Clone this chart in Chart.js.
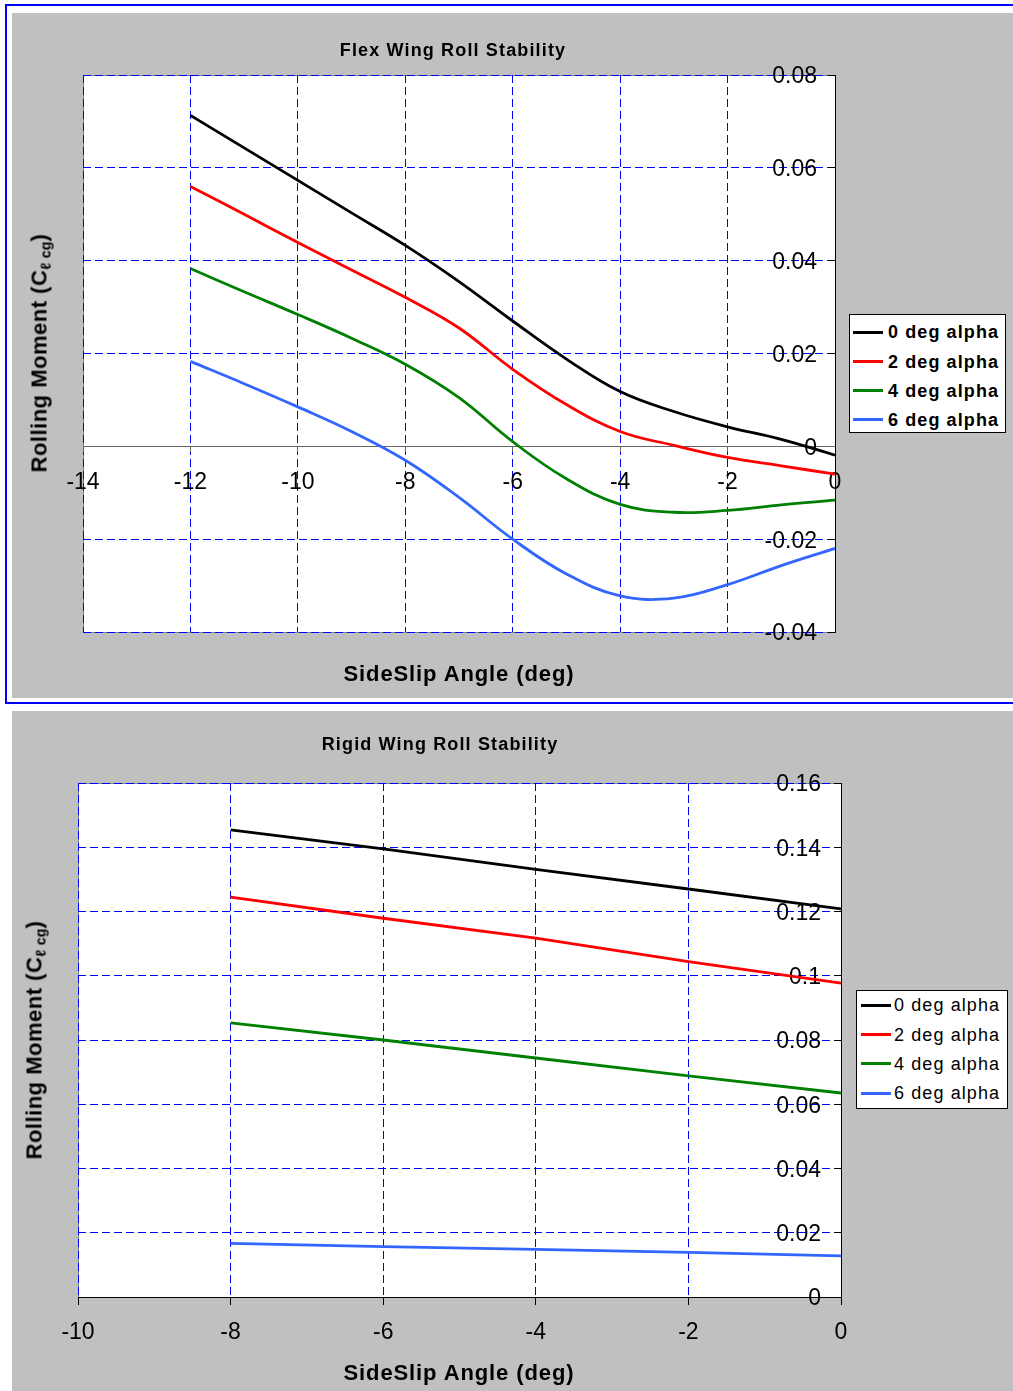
<!DOCTYPE html>
<html><head><meta charset="utf-8">
<script src="https://cdn.jsdelivr.net/npm/chart.js@4/dist/chart.umd.min.js"></script>
<style>
html,body{margin:0;padding:0;background:#fff;}
body{width:1013px;height:1391px;position:relative;overflow:hidden;font-family:"Liberation Sans",Arial,sans-serif;}
#frame{position:absolute;left:5px;top:4px;width:1100px;height:700px;border:2px solid #0000ff;box-sizing:border-box;}
.panel{position:absolute;left:12px;width:1001px;background:#c0c0c0;}
.panel canvas{position:absolute;left:0;top:0;}
.t{position:absolute;transform:translate(-50%,-50%);white-space:nowrap;color:#000;}
.title{font-weight:bold;font-size:18px;letter-spacing:1.15px;}
.xt{font-weight:bold;font-size:22px;letter-spacing:0.9px;}
.yt{position:absolute;transform:translate(-50%,-50%) rotate(-90deg);white-space:nowrap;font-weight:bold;font-size:22px;letter-spacing:0.5px;}
.yt .sub{font-size:14px;vertical-align:-4px;letter-spacing:0.3px;}
.legend{position:absolute;background:#fff;border:1px solid #000;box-sizing:border-box;}
.legend .row{position:absolute;left:0;height:0;}
.legend .ln{position:absolute;height:3px;margin-top:-1.5px;}
.legend .lt{position:absolute;white-space:nowrap;transform:translateY(-50%);font-size:18px;letter-spacing:1.1px;line-height:20px;}
</style>
</head><body>
<div id="frame"></div>
<div class="panel" style="top:13px;height:685px;"><canvas id="c1" width="1001" height="685"></canvas></div>
<div class="panel" style="top:711px;height:680px;"><canvas id="c2" width="1001" height="680"></canvas></div>

<div class="t title" style="left:453px;top:50px;">Flex Wing Roll Stability</div>
<div class="t xt" style="left:459px;top:674px;">SideSlip Angle (deg)</div>
<div class="yt" style="left:40px;top:353px;">Rolling Moment (C<span class="sub">ℓ cg</span>)</div>
<div class="legend" id="lg1" style="left:849px;top:314px;width:157px;height:119px;"></div>

<div class="t title" style="left:440px;top:744px;">Rigid Wing Roll Stability</div>
<div class="t xt" style="left:459px;top:1373px;">SideSlip Angle (deg)</div>
<div class="yt" style="left:35px;top:1040px;">Rolling Moment (C<span class="sub">ℓ cg</span>)</div>
<div class="legend" id="lg2" style="left:856px;top:990px;width:152px;height:119px;"></div>

<script>
// ---------- data ----------
const seriesNames = ['0 deg alpha', '2 deg alpha', '4 deg alpha', '6 deg alpha'];
const seriesColors = ['#000000', '#ff0000', '#008000', '#3366ff'];

// Flex wing
const flexSideslip = [-12, -11, -10, -9, -8, -7, -6, -5, -4, -3, -2, -1, 0];
const flexAlpha0 = [0.0713, 0.0643, 0.0573, 0.0503, 0.0433, 0.0355, 0.0270, 0.0188, 0.0118, 0.0075, 0.0042, 0.0015, -0.0019];
const flexAlpha2 = [0.0560, 0.0500, 0.0439, 0.0380, 0.0321, 0.0255, 0.0166, 0.0090, 0.0032, 0.0002, -0.0024, -0.0042, -0.0060];
const flexAlpha4 = [0.0383, 0.0333, 0.0284, 0.0233, 0.0177, 0.0105, 0.0010, -0.0070, -0.0125, -0.0142, -0.0138, -0.0126, -0.0116];
const flexAlpha6 = [0.0183, 0.0135, 0.0085, 0.0032, -0.0030, -0.0110, -0.0200, -0.0275, -0.0322, -0.0327, -0.0298, -0.0257, -0.0220];
const flexXTicks = {min: -14, max: 0, step: 2};
const flexYTicks = {min: -0.04, max: 0.08, step: 0.02};

// Rigid wing
const rigidSideslip = [-8, -6, -4, -2, 0];
const rigidAlpha0 = [0.1454, 0.1395, 0.1331, 0.1270, 0.1208];
const rigidAlpha2 = [0.1245, 0.1179, 0.1117, 0.1044, 0.0977];
const rigidAlpha4 = [0.0853, 0.0800, 0.0744, 0.0688, 0.0635];
const rigidAlpha6 = [0.0167, 0.0157, 0.0148, 0.0139, 0.0128];
const rigidXTicks = {min: -10, max: 0, step: 2};
const rigidYTicks = {min: 0, max: 0.16, step: 0.02};

// ---------- helpers ----------
Chart.defaults.font.family = '"Liberation Sans", Arial, sans-serif';
const fmt = v => String(Number(Number(v).toFixed(3)));

function pts(xs, ys) { return xs.map((x, i) => ({x: x, y: ys[i]})); }

const plotBg = {
  id: 'plotBg',
  beforeDraw(chart) {
    const {ctx, chartArea: a} = chart;
    ctx.save();
    ctx.fillStyle = '#ffffff';
    ctx.fillRect(a.left, a.top, a.right - a.left, a.bottom - a.top);
    ctx.strokeStyle = '#808080';
    ctx.lineWidth = 1;
    ctx.strokeRect(a.left + 0.5, a.top + 0.5, a.right - a.left, a.bottom - a.top);
    ctx.restore();
  }
};

function makeChart(id, xs, ysList, xt, yt, opts) {
  const datasets = ysList.map((ys, i) => ({
    label: seriesNames[i],
    data: pts(xs, ys),
    borderColor: seriesColors[i],
    backgroundColor: seriesColors[i],
    borderWidth: 2.8,
    pointRadius: 0,
    fill: false,
    tension: opts.tension
  }));
  return new Chart(document.getElementById(id), {
    type: 'line',
    data: {datasets},
    plugins: [plotBg],
    options: {
      responsive: false,
      animation: false,
      devicePixelRatio: 1,
      layout: {padding: opts.padding},
      plugins: {legend: {display: false}, tooltip: {enabled: false}, title: {display: false}},
      scales: {
        x: {
          type: 'linear', min: xt.min, max: xt.max,
          position: opts.xPos,
          afterFit: s => { s.height = opts.xHeight; },
          ticks: {stepSize: xt.step, color: '#000', font: {size: 23}, padding: opts.xPad, callback: fmt, maxRotation: 0, autoSkip: false},
          grid: {color: '#0000ff', lineWidth: 1, tickLength: opts.xTick, tickColor: opts.xAxisColor, tickBorderDash: [], drawTicks: true},
          border: {display: true, color: opts.xAxisColor, width: 1, dash: [8, 4]}
        },
        y: {
          type: 'linear', min: yt.min, max: yt.max,
          position: 'right',
          afterFit: s => { s.width = 10; },
          ticks: {stepSize: yt.step, color: '#000', font: {size: 23}, mirror: true, padding: opts.yPad, labelOffset: 2, callback: fmt, autoSkip: false},
          grid: {color: '#0000ff', lineWidth: 1, tickLength: -7, tickColor: '#000', tickBorderDash: [], drawTicks: true},
          border: {display: true, color: '#000', width: 1, dash: [8, 4]}
        }
      }
    }
  });
}

makeChart('c1', flexSideslip, [flexAlpha0, flexAlpha2, flexAlpha4, flexAlpha6], flexXTicks, flexYTicks,
  {tension: 0.4, padding: {left: 71, top: 62, right: 168, bottom: 66}, xPos: {y: 0}, xHeight: 0, xPad: 18, xTick: 5, xAxisColor: '#666666', yPad: -18});
makeChart('c2', rigidSideslip, [rigidAlpha0, rigidAlpha2, rigidAlpha4, rigidAlpha6], rigidXTicks, rigidYTicks,
  {tension: 0, padding: {left: 66, top: 72, right: 162, bottom: 34}, xPos: 'bottom', xHeight: 60, xPad: 14, xTick: 8, xAxisColor: '#000000', yPad: -20});

// ---------- legends ----------
function buildLegend(id, rows, lineLeft, lineW, textLeft, bold) {
  const el = document.getElementById(id);
  seriesNames.forEach((name, i) => {
    const r = document.createElement('div');
    r.className = 'row';
    r.style.top = rows[i] + 'px';
    const ln = document.createElement('div');
    ln.className = 'ln';
    ln.style.left = lineLeft + 'px';
    ln.style.width = lineW + 'px';
    ln.style.background = seriesColors[i];
    const t = document.createElement('div');
    t.className = 'lt';
    t.style.left = textLeft + 'px';
    t.style.fontWeight = bold ? 'bold' : 'normal';
    t.textContent = name;
    r.appendChild(ln); r.appendChild(t);
    el.appendChild(r);
  });
}
buildLegend('lg1', [17, 46.5, 75.5, 104.5], 3, 30, 38, true);
buildLegend('lg2', [14, 43.5, 72.5, 102], 4, 30, 37, false);
</script>
</body></html>
